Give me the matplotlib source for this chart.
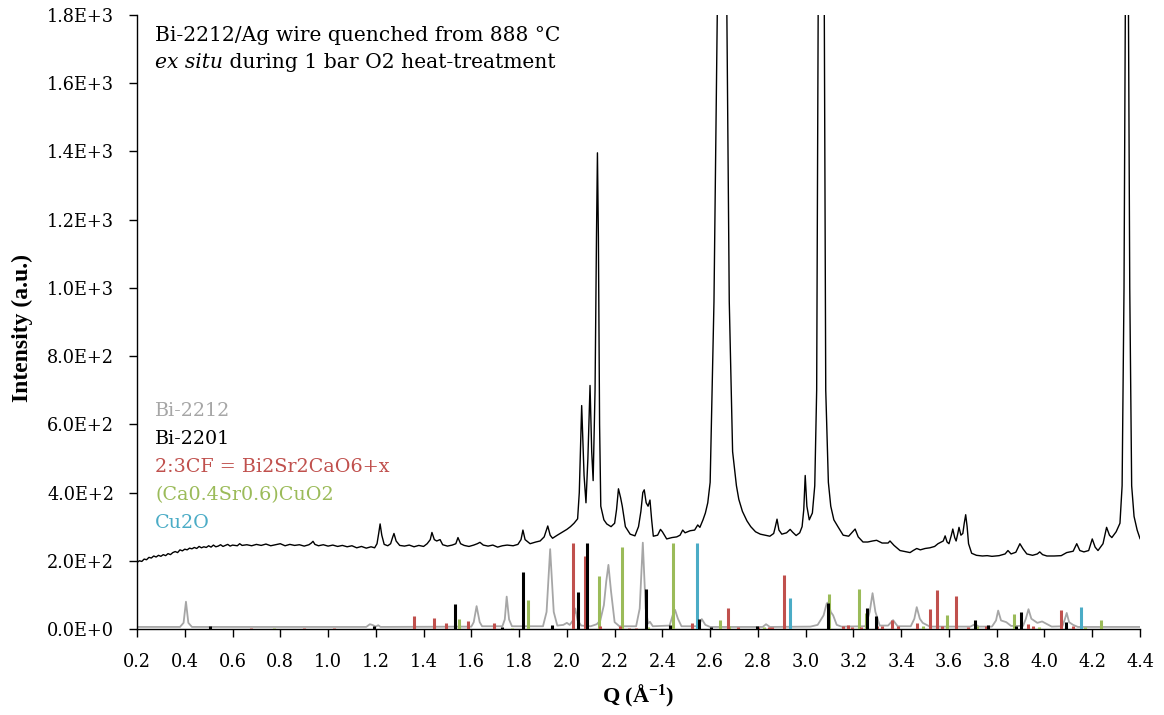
import numpy as np
import matplotlib.pyplot as plt
from matplotlib.ticker import FuncFormatter, MultipleLocator

# measured pattern, Bi-2212/Ag wire (Q in 1/A, intensity in counts)
meas_q = [0.200, 0.210, 0.220, 0.230, 0.240, 0.250, 0.260, 0.270, 0.280, 0.290,
          0.300, 0.310, 0.320, 0.330, 0.340, 0.350, 0.360, 0.370, 0.380, 0.390,
          0.400, 0.410, 0.420, 0.430, 0.440, 0.450, 0.460, 0.470, 0.480, 0.490,
          0.500, 0.510, 0.520, 0.530, 0.540, 0.550, 0.560, 0.570, 0.580, 0.590,
          0.600, 0.620, 0.630, 0.640, 0.660, 0.680, 0.700, 0.720, 0.740, 0.760,
          0.780, 0.800, 0.820, 0.840, 0.860, 0.880, 0.900, 0.920, 0.930, 0.937,
          0.945, 0.960, 0.980, 1.000, 1.020, 1.040, 1.060, 1.080, 1.100, 1.120,
          1.140, 1.160, 1.180, 1.195, 1.205, 1.212, 1.218, 1.225, 1.235, 1.250,
          1.262, 1.270, 1.276, 1.285, 1.300, 1.320, 1.340, 1.360, 1.380, 1.400,
          1.415, 1.428, 1.435, 1.445, 1.455, 1.469, 1.480, 1.500, 1.520, 1.535,
          1.544, 1.555, 1.570, 1.590, 1.610, 1.625, 1.636, 1.650, 1.670, 1.690,
          1.710, 1.730, 1.750, 1.775, 1.795, 1.808, 1.816, 1.825, 1.846, 1.870,
          1.888, 1.905, 1.920, 1.930, 1.940, 1.960, 1.984, 2.000, 2.015, 2.030,
          2.045, 2.052, 2.062, 2.072, 2.080, 2.088, 2.097, 2.104, 2.110, 2.118,
          2.124, 2.128, 2.132, 2.137, 2.142, 2.155, 2.167, 2.185, 2.200, 2.208,
          2.216, 2.225, 2.232, 2.245, 2.265, 2.285, 2.300, 2.310, 2.318, 2.324,
          2.332, 2.340, 2.348, 2.355, 2.362, 2.380, 2.392, 2.400, 2.418, 2.440,
          2.460, 2.474, 2.485, 2.495, 2.516, 2.535, 2.548, 2.557, 2.570, 2.580,
          2.590, 2.600, 2.616, 2.630, 2.640, 2.655, 2.670, 2.680, 2.694, 2.710,
          2.720, 2.735, 2.754, 2.770, 2.790, 2.810, 2.830, 2.850, 2.866, 2.873,
          2.880, 2.888, 2.900, 2.920, 2.935, 2.945, 2.960, 2.975, 2.985, 2.992,
          2.998, 3.005, 3.015, 3.028, 3.038, 3.046, 3.052, 3.065, 3.078, 3.084,
          3.095, 3.105, 3.118, 3.135, 3.157, 3.180, 3.197, 3.207, 3.220, 3.240,
          3.260, 3.280, 3.297, 3.320, 3.345, 3.353, 3.370, 3.395, 3.415, 3.437,
          3.450, 3.465, 3.480, 3.500, 3.520, 3.540, 3.554, 3.576, 3.584, 3.592,
          3.600, 3.610, 3.616, 3.624, 3.630, 3.637, 3.642, 3.650, 3.658, 3.664,
          3.670, 3.676, 3.682, 3.695, 3.715, 3.740, 3.760, 3.780, 3.810, 3.835,
          3.847, 3.860, 3.880, 3.897, 3.910, 3.926, 3.950, 3.970, 3.980, 3.992,
          4.010, 4.040, 4.070, 4.093, 4.120, 4.135, 4.148, 4.165, 4.185, 4.200,
          4.212, 4.224, 4.245, 4.260, 4.272, 4.282, 4.300, 4.316, 4.325, 4.333,
          4.345, 4.357, 4.365, 4.375, 4.388, 4.400]
meas_i = [195, 200, 198, 205, 203, 210, 208, 214, 211, 216,
          213, 218, 215, 221, 218, 224, 227, 224, 232, 229,
          234, 232, 237, 235, 239, 236, 242, 238, 241, 239,
          244, 240, 246, 241, 243, 247, 242, 245, 248, 243,
          246, 244, 250, 245, 247, 244, 248, 245, 249, 244,
          247, 250, 244, 248, 245, 247, 243, 247, 252, 257,
          248, 244, 247, 243, 246, 242, 245, 241, 244, 238,
          242, 237, 241, 238, 250, 280, 308, 275, 248, 244,
          250, 268, 280, 258, 245, 243, 246, 241, 245, 242,
          250, 262, 283, 262, 258, 262, 247, 243, 246, 250,
          268, 250, 245, 242, 246, 250, 254, 246, 243, 246,
          240, 244, 246, 244, 248, 262, 290, 262, 250, 255,
          258, 270, 302, 275, 266, 275, 285, 292, 300, 310,
          323, 400, 655, 450, 370, 500, 714, 520, 435, 700,
          1150, 1396, 1150, 600, 360, 320, 308, 300, 310, 350,
          411, 385, 360, 300, 278, 273, 300, 345, 400, 408,
          370, 360, 378, 320, 272, 275, 292, 285, 264, 268,
          270, 275, 290, 282, 288, 290, 305, 298, 320, 340,
          370, 430, 960, 1800, 2700, 3100, 1800, 960, 520, 420,
          380, 345, 317, 300, 285, 278, 275, 272, 280, 300,
          322, 290, 278, 282, 292, 284, 274, 282, 300, 350,
          450, 360, 320, 340, 420, 700, 1800, 3000, 1800, 700,
          430, 360, 320, 300, 275, 272, 285, 293, 270, 255,
          255, 258, 260, 252, 252, 258, 245, 230, 227, 224,
          230, 236, 232, 236, 238, 242, 250, 258, 273, 255,
          250, 275, 293, 268, 258, 280, 298, 275, 280, 310,
          335, 300, 250, 222, 216, 214, 215, 213, 215, 220,
          230, 220, 225, 250, 235, 220, 216, 220, 226, 218,
          214, 214, 215, 224, 228, 250, 230, 226, 230, 264,
          240, 230, 250, 298, 275, 268, 285, 310, 420, 1000,
          2800, 1000, 420, 330, 290, 265]

# simulated Bi-2212 pattern
sim_q = [0.200, 0.380, 0.395, 0.405, 0.415, 0.430, 1.160, 1.175, 1.185, 1.200,
         1.210, 1.220, 1.600, 1.610, 1.622, 1.635, 1.645, 1.730, 1.740, 1.748,
         1.758, 1.770, 1.900, 1.915, 1.930, 1.945, 1.960, 1.985, 2.000, 2.012,
         2.025, 2.035, 2.045, 2.060, 2.100, 2.125, 2.140, 2.155, 2.165, 2.174,
         2.185, 2.200, 2.220, 2.290, 2.305, 2.318, 2.330, 2.340, 2.348, 2.360,
         2.430, 2.443, 2.453, 2.465, 2.480, 2.550, 2.565, 2.580, 2.600, 2.820,
         2.834, 2.850, 3.020, 3.050, 3.075, 3.088, 3.095, 3.105, 3.115, 3.130,
         3.150, 3.250, 3.268, 3.280, 3.292, 3.310, 3.345, 3.366, 3.385, 3.440,
         3.455, 3.465, 3.478, 3.490, 3.520, 3.690, 3.709, 3.725, 3.780, 3.797,
         3.806, 3.818, 3.840, 3.860, 3.910, 3.922, 3.933, 3.945, 3.970, 3.990,
         4.030, 4.075, 4.085, 4.093, 4.103, 4.120, 4.140, 4.400]
sim_i = [6, 6, 18, 80, 18, 6, 6, 14, 12, 7,
         11, 6, 7, 20, 67, 20, 8, 8, 28, 95,
         28, 8, 8, 50, 234, 50, 10, 12, 18, 12,
         25, 60, 25, 10, 8, 14, 25, 70, 140, 188,
         110, 20, 8, 8, 60, 253, 60, 16, 21, 8,
         10, 40, 56, 30, 8, 8, 29, 12, 6, 6,
         14, 6, 7, 12, 40, 75, 78, 50, 40, 12,
         7, 8, 50, 105, 50, 10, 10, 26, 8, 8,
         30, 64, 30, 18, 7, 7, 14, 7, 7, 25,
         54, 25, 20, 9, 9, 30, 58, 30, 18, 22,
         7, 8, 28, 47, 20, 12, 6, 6]

# reference stick patterns (position, relative height)
bi2201_q = [0.506, 1.193, 1.532, 1.728, 1.815, 1.937, 2.045, 2.085, 2.330, 2.432,
            2.553, 2.604, 2.795, 3.095, 3.258, 3.296, 3.709, 3.762, 3.881, 3.902,
            4.092]
bi2201_i = [10, 9, 73, 5, 166, 12, 109, 253, 116, 12,
            30, 5, 9, 77, 61, 37, 27, 12, 10, 50,
            20]

cf23_q = [0.676, 0.900, 1.025, 1.360, 1.445, 1.493, 1.587, 1.696, 2.027, 2.077,
          2.139, 2.223, 2.262, 2.290, 2.432, 2.523, 2.674, 2.718, 2.800, 2.845,
          2.860, 2.909, 3.155, 3.176, 3.195, 3.230, 3.300, 3.320, 3.360, 3.385,
          3.466, 3.520, 3.549, 3.570, 3.628, 3.680, 3.755, 3.930, 3.952, 4.068,
          4.090, 4.120]
cf23_i = [4, 4, 4, 38, 31, 17, 24, 19, 252, 214,
          10, 8, 4, 4, 10, 17, 61, 5, 5, 5,
          5, 158, 10, 11, 5, 6, 9, 9, 26, 8,
          19, 58, 113, 8, 98, 6, 10, 14, 8, 57,
          10, 10]

cso_q = [0.774, 1.547, 1.770, 1.836, 2.136, 2.232, 2.340, 2.443, 2.642, 2.680,
         2.827, 3.098, 3.225, 3.253, 3.493, 3.591, 3.716, 3.874, 3.975, 4.170,
         4.235]
cso_i = [4, 28, 4, 84, 155, 241, 5, 251, 27, 10,
         6, 102, 116, 46, 10, 41, 8, 44, 5, 5,
         26]

cu2o_q = [2.544, 2.935, 4.153]
cu2o_i = [251, 90, 64]

legend_labels = ['Bi-2212', 'Bi-2201', '2:3CF = Bi2Sr2CaO6+x',
                 '(Ca0.4Sr0.6)CuO2', 'Cu2O']

GREY = '#A6A6A6'
RED = '#C0504D'
GREEN = '#9BBB59'
BLUE = '#4BACC6'
legend_colors = [GREY, 'black', RED, GREEN, BLUE]

plt.rcParams['font.family'] = ['DejaVu Serif']
plt.rcParams['mathtext.fontset'] = 'custom'
plt.rcParams['mathtext.rm'] = 'Liberation Serif:bold'
plt.rcParams['mathtext.it'] = 'Liberation Serif:bold'
plt.rcParams['mathtext.bf'] = 'Liberation Serif:bold'

fig = plt.figure(figsize=(11.64, 7.15), dpi=100)
ax = fig.add_axes([0.1177, 0.1203, 0.8617, 0.8587])

ax.plot(sim_q, sim_i, color=GREY, lw=1.3, zorder=2)
stick_lw = 2.2
ax.vlines(cso_q, 0, cso_i, color=GREEN, lw=stick_lw, zorder=3)
ax.vlines(cf23_q, 0, cf23_i, color=RED, lw=stick_lw, zorder=3)
ax.vlines(cu2o_q, 0, cu2o_i, color=BLUE, lw=stick_lw, zorder=3)
ax.vlines(bi2201_q, 0, bi2201_i, color='black', lw=stick_lw, zorder=4)
ax.plot(meas_q, meas_i, color='black', lw=1.0, zorder=5)

ax.set_xlim(0.2, 4.4)
ax.set_ylim(0, 1800)
ax.xaxis.set_major_locator(MultipleLocator(0.2))
ax.yaxis.set_major_locator(MultipleLocator(200))


def sci_fmt(v, pos):
    if v <= 0:
        return '0.0E+0'
    e = int(np.floor(np.log10(v)))
    return f'{v / 10 ** e:.1f}E+{e}'


ax.yaxis.set_major_formatter(FuncFormatter(sci_fmt))
ax.xaxis.set_major_formatter(FuncFormatter(lambda v, p: f'{v:.1f}'))

for side in ['top', 'right']:
    ax.spines[side].set_visible(False)
for side in ['left', 'bottom']:
    ax.spines[side].set_linewidth(1.0)
ax.tick_params(axis='both', direction='out', length=6, width=1.0,
               labelsize=12.8)
ax.tick_params(axis='x', pad=11)
ax.tick_params(axis='y', pad=10.5)

ax.set_xlabel('Q (Å$^{-1}$)', fontsize=16, fontweight='bold',
              family='Liberation Serif')
ax.set_ylabel('Intensity (a.u.)', fontsize=17, fontweight='bold',
              family='Liberation Serif')
ax.xaxis.set_label_coords(0.5, -0.088)
ax.yaxis.set_label_coords(-0.104, 0.49)

# sample description
ax.text(0.018, 0.967, 'Bi-2212/Ag wire quenched from 888 °C',
        transform=ax.transAxes, fontsize=14.6, va='center', ha='left')
t_it = ax.text(0.018, 0.922, 'ex situ', style='italic',
               transform=ax.transAxes, fontsize=14.6, va='center', ha='left')
ax.annotate(' during 1 bar O2 heat-treatment', xy=(1, 0), xycoords=t_it,
            va='bottom', ha='left', fontsize=14.6)

# phase key
for k, (lab, col) in enumerate(zip(legend_labels, legend_colors)):
    ax.text(0.018, 0.355 - k * 0.0456, lab, color=col, fontsize=13.8,
            transform=ax.transAxes, va='center', ha='left')

fig.savefig('out.png', dpi=100)
